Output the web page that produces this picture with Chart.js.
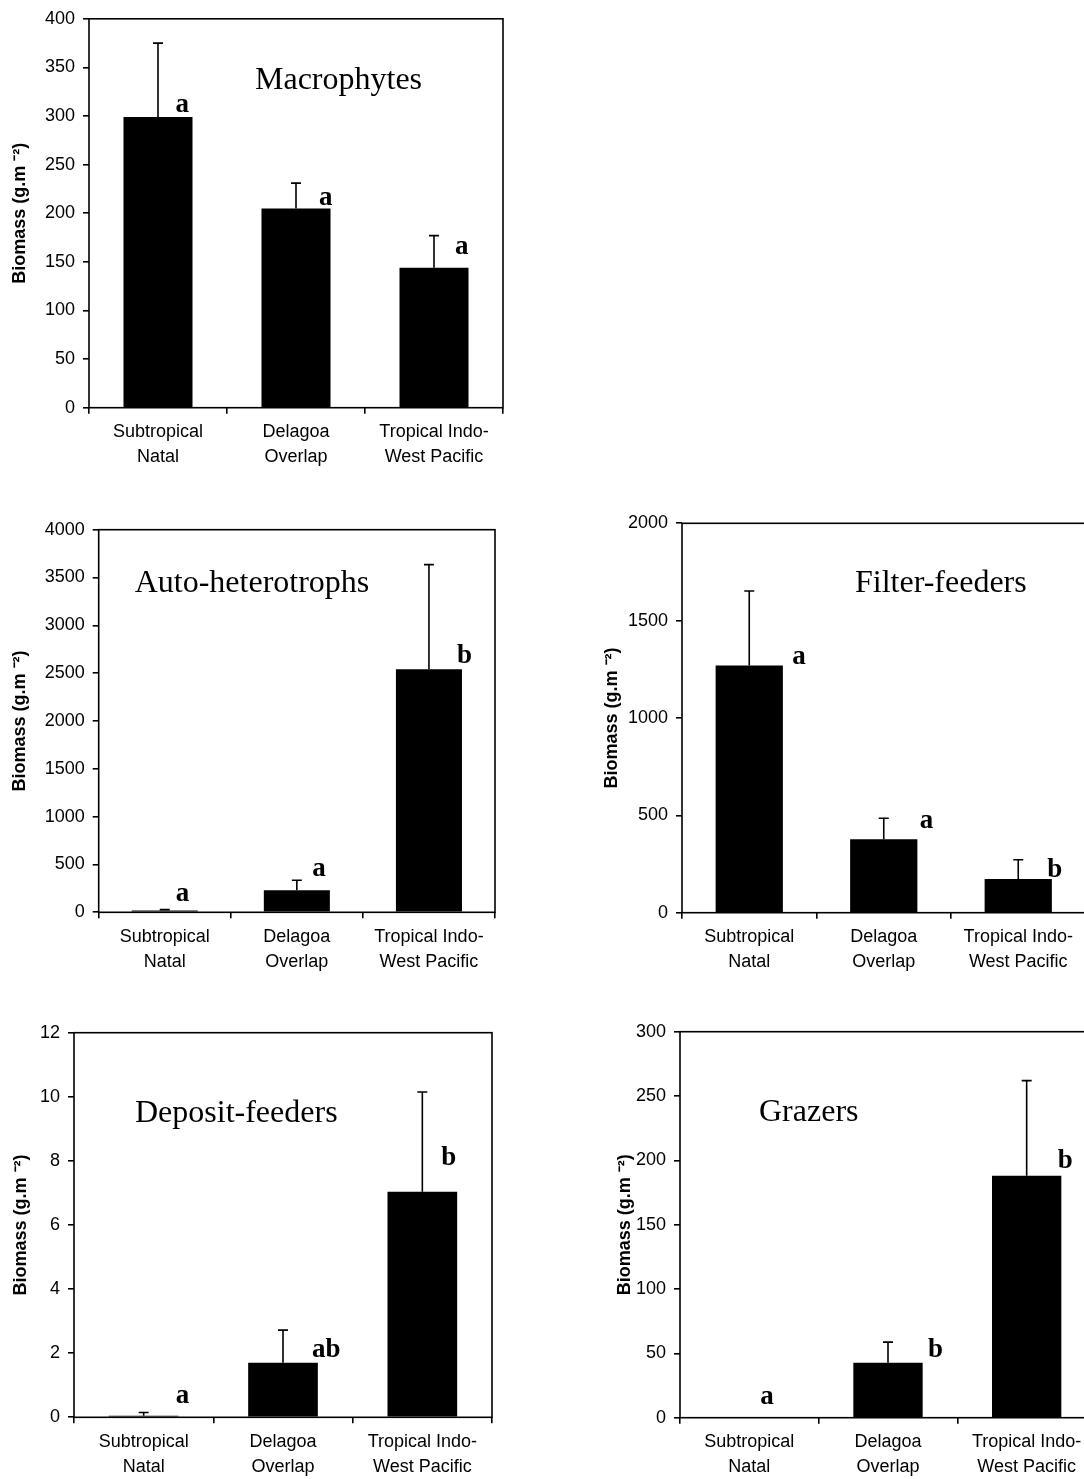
<!DOCTYPE html>
<html><head><meta charset="utf-8">
<script src="https://cdn.jsdelivr.net/npm/chart.js@4.4.0/dist/chart.umd.min.js"></script>
<style>
html,body{margin:0;padding:0;background:#fff;overflow:hidden;width:1084px;height:1479px;position:relative;}
canvas{position:absolute;}
</style></head><body>
<canvas id="c1"></canvas><canvas id="c2"></canvas><canvas id="c3"></canvas><canvas id="c4"></canvas><canvas id="c5"></canvas>
<script>
// ---- data ----
const categories = [['Subtropical','Natal'],['Delagoa','Overlap'],['Tropical Indo-','West Pacific']];
const yTitle = 'Biomass (g.m \u207B\u00B2)';

const macrophytesMean = [299, 205, 144];
const macrophytesSE   = [76, 26, 33];
const macrophytesLetters = ['a','a','a'];

const autoHetMean = [20, 230, 2540];
const autoHetSE   = [8, 105, 1095];
const autoHetLetters = ['a','a','b'];

const filterMean = [1270, 377, 173];
const filterSE   = [382, 108, 99];
const filterLetters = ['a','a','b'];

const depositMean = [0.05, 1.70, 7.04];
const depositSE   = [0.10, 1.02, 3.11];
const depositLetters = ['a','ab','b'];

const grazerMean = [0.3, 42.7, 188];
const grazerSE   = [0, 16, 74];
const grazerLetters = ['a','b','b'];

const yMaxes = [400, 4000, 2000, 12, 300];
const ySteps = [50, 500, 500, 2, 50];
const titles = ['Macrophytes','Auto-heterotrophs','Filter-feeders','Deposit-feeders','Grazers'];

// ---- layout ----
const layouts = [
  {id:'c1', cv:{l:0,t:0,w:520,h:480},      pa:{l:89,t:14.7,r:503,b:407.7},     tt:[166,70], ytx:20,
   dx:[17.5,23,21], dy:[-5,-3,-14]},
  {id:'c2', cv:{l:0,t:500,w:520,h:480},    pa:{l:98.7,t:529.7,r:495,b:912.3},  tt:[36,62],  ytx:20,
   dx:[11,15.5,28], dy:[-9,-14,-6]},
  {id:'c3', cv:{l:590,t:500,w:510,h:480},  pa:{l:682,t:523.3,r:1085.5,b:912.7},tt:[173,69], ytx:612,
   dx:[43,36,29], dy:[-1,-11,-2]},
  {id:'c4', cv:{l:0,t:1010,w:520,h:469},   pa:{l:74,t:1032.7,r:492,b:1417.3},  tt:[61,89],  ytx:20.7,
   dx:[32,29,19], dy:[-13,-6,-27]},
  {id:'c5', cv:{l:590,t:1010,w:520,h:469}, pa:{l:680,t:1031.7,r:1096,b:1417.7},tt:[79,89],  ytx:625,
   dx:[11,40,31], dy:[-13,-6,-8]}
];
const series = [
  [macrophytesMean, macrophytesSE, macrophytesLetters],
  [autoHetMean, autoHetSE, autoHetLetters],
  [filterMean, filterSE, filterLetters],
  [depositMean, depositSE, depositLetters],
  [grazerMean, grazerSE, grazerLetters]
];

const SANS = "'Liberation Sans', Arial, sans-serif";
const SERIF = "'Liberation Serif', 'Times New Roman', serif";
const TITLE_FONT = 18;

layouts.forEach((L, k) => {
  const [mean, se, letters] = series[k];
  const cv = document.getElementById(L.id);
  cv.width = L.cv.w; cv.height = L.cv.h;
  cv.style.left = L.cv.l + 'px'; cv.style.top = L.cv.t + 'px';
  cv.style.width = L.cv.w + 'px'; cv.style.height = L.cv.h + 'px';

  const decor = {
    id: 'decor' + k,
    afterDatasetsDraw(chart) {
      const ctx = chart.ctx, ys = chart.scales.y, meta = chart.getDatasetMeta(0);
      ctx.save();
      ctx.strokeStyle = '#000'; ctx.lineWidth = 1.6;
      meta.data.forEach((bar, i) => {
        if (!se[i]) return;
        const yTop = ys.getPixelForValue(mean[i] + se[i]);
        ctx.beginPath();
        ctx.moveTo(bar.x, bar.y); ctx.lineTo(bar.x, yTop);
        ctx.moveTo(bar.x - 5, yTop); ctx.lineTo(bar.x + 5, yTop);
        ctx.stroke();
      });
      // letters
      ctx.fillStyle = '#000';
      ctx.font = 'bold 27px ' + SERIF;
      ctx.textAlign = 'left'; ctx.textBaseline = 'alphabetic';
      meta.data.forEach((bar, i) => {
        ctx.fillText(letters[i], bar.x + L.dx[i], bar.y + L.dy[i]);
      });
      // panel title
      const a = chart.chartArea;
      ctx.font = '32px ' + SERIF;
      ctx.fillText(titles[k], a.left + L.tt[0], a.top + L.tt[1]);
      // frame
      ctx.lineWidth = 1.6;
      ctx.strokeRect(a.left, a.top, a.right - a.left, a.bottom - a.top);
      ctx.restore();
    }
  };

  new Chart(cv, {
    type: 'bar',
    data: {
      labels: categories,
      datasets: [{ data: mean, backgroundColor: '#000', borderWidth: 0,
                   barPercentage: 0.5, categoryPercentage: 1.0 }]
    },
    options: {
      responsive: false, animation: false, devicePixelRatio: 1,
      layout: { padding: { left: 0, bottom: 0,
                           top: L.pa.t - L.cv.t,
                           right: (L.cv.l + L.cv.w) - L.pa.r } },
      plugins: { legend: { display: false }, tooltip: { enabled: false } },
      scales: {
        x: {
          grid: { display: true, drawOnChartArea: false, drawTicks: true, tickLength: 6, color: '#000', lineWidth: 1.6, offset: true },
          border: { display: false },
          ticks: { color: '#000', font: { family: SANS, size: 18, lineHeight: 1.39 }, padding: 6, maxRotation: 0, autoSkip: false },
          afterFit: s => { s.height = (L.cv.t + L.cv.h) - L.pa.b; }
        },
        y: {
          min: 0, max: yMaxes[k],
          grid: { display: true, drawOnChartArea: false, drawTicks: true, tickLength: 6, color: '#000', lineWidth: 1.6 },
          border: { display: false },
          ticks: { stepSize: ySteps[k], color: '#000', font: { family: SANS, size: 18 }, padding: 8,
                   format: { useGrouping: false } },
          title: { display: true, text: yTitle, color: '#000',
                   font: { family: SANS, size: TITLE_FONT, weight: 'bold', lineHeight: 1.2 },
                   padding: { top: L.ytx - L.cv.l - TITLE_FONT * 1.2 / 2, bottom: 0 } },
          afterFit: s => { s.width = L.pa.l - L.cv.l; }
        }
      }
    },
    plugins: [decor]
  });
});
</script>
</body></html>
